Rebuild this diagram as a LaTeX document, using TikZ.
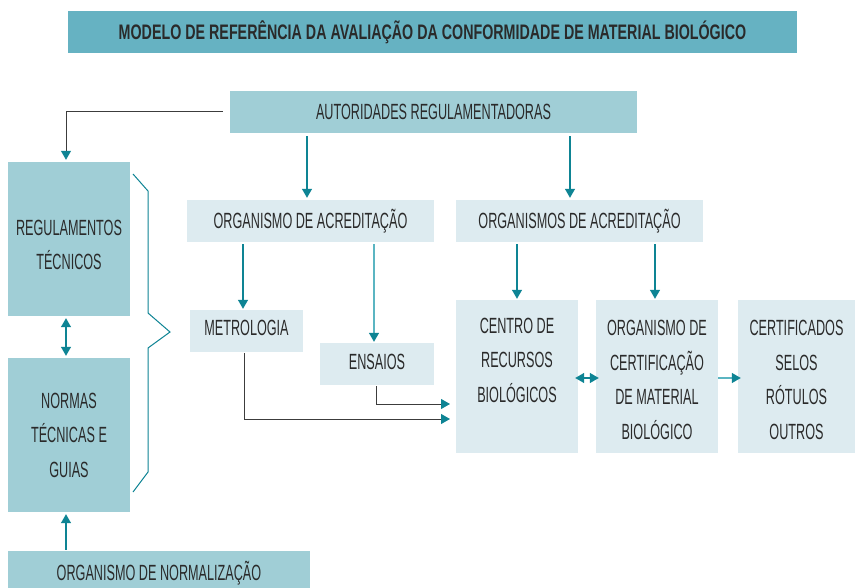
\documentclass[tikz,border=0pt]{standalone}
\usepackage{fontspec}
\setmainfont{Liberation Sans}[FakeStretch=0.575]
\newfontfamily\titlefont{Liberation Sans}[FakeStretch=0.68]
\usetikzlibrary{arrows.meta}
\definecolor{titlecol}{HTML}{66B2C2}
\definecolor{darkbox}{HTML}{A0CED6}
\definecolor{lightbox}{HTML}{DDEBF0}
\definecolor{teal}{HTML}{0E8494}
\definecolor{lteal}{HTML}{5BB5C2}
\definecolor{txt}{HTML}{2A2A2A}
\definecolor{gline}{HTML}{3C3C3C}
\tikzset{
  box/.style={inner sep=0pt, align=center, text=txt, font={\fontsize{22}{34.5}\selectfont}},
  dbox/.style={box, fill=darkbox},
  lbox/.style={box, fill=lightbox},
  tip/.style={-{Triangle[width=10pt,length=9pt,color=teal]}},
  dtip/.style={{Triangle[width=10pt,length=9pt,color=teal]}-{Triangle[width=10pt,length=9pt,color=teal]}},
  tl/.style={draw=teal, line width=1.2pt, tip},
  tll/.style={draw=lteal, line width=1.2pt, tip},
  gl/.style={draw=gline, line width=1pt, tip},
}
\begin{document}
\begin{tikzpicture}[x=1pt,y=-1pt]
\useasboundingbox (0,0) rectangle (855,588);
\clip (0,0) rectangle (855,588);
\fill[white] (0,0) rectangle (855,588);
\node[box, fill=titlecol, minimum width=729pt, minimum height=42pt, font={\titlefont\fontsize{21}{24}\selectfont\bfseries}] (title) at (432.5,32) {MODELO DE REFERÊNCIA DA AVALIAÇÃO DA CONFORMIDADE DE MATERIAL BIOLÓGICO};
\node[dbox, minimum width=407pt, minimum height=42pt] (auto) at (433.5,112) {AUTORIDADES REGULAMENTADORAS};
\node[dbox, minimum width=122pt, minimum height=154pt] (reg) at (69,239) {};
\node[box] (regt) at (69,245) {REGULAMENTOS\\TÉCNICOS};
\node[dbox, minimum width=122pt, minimum height=154pt] (normas) at (69,435) {NORMAS\\TÉCNICAS E\\GUIAS};
\node[dbox, minimum width=302pt, minimum height=44pt] (normaliz) at (159,573) {ORGANISMO DE NORMALIZAÇÃO};
\node[lbox, minimum width=247pt, minimum height=42pt] (orgacred) at (310.5,221) {ORGANISMO DE ACREDITAÇÃO};
\node[lbox, minimum width=247pt, minimum height=42pt] (orgsacred) at (579.5,221) {ORGANISMOS DE ACREDITAÇÃO};
\node[lbox, minimum width=113pt, minimum height=42pt] (metro) at (246.5,331) {};
\node[box] (metrot) at (246.5,327.5) {METROLOGIA};
\node[lbox, minimum width=114pt, minimum height=42pt] (ensaios) at (377,364) {};
\node[box] (ensaiost) at (377,361.5) {ENSAIOS};
\node[lbox, minimum width=122pt, minimum height=153pt] (centro) at (517,376.5) {};
\node[box] (centrot) at (517,360) {CENTRO DE\\RECURSOS\\BIOLÓGICOS};
\node[lbox, minimum width=122pt, minimum height=153pt] (cert) at (657,376.5) {};
\node[box] (certt) at (657,380) {ORGANISMO DE\\CERTIFICAÇÃO\\DE MATERIAL\\BIOLÓGICO};
\node[lbox, minimum width=117pt, minimum height=153pt] (certif) at (796.5,376.5) {};
\node[box] (certift) at (796.5,380) {CERTIFICADOS\\SELOS\\RÓTULOS\\OUTROS};
% connectors
\draw[gl] ([xshift=-7pt]auto.west) -| ([xshift=-3pt,yshift=2pt]reg.north);
\draw[tl] ([xshift=-3.5pt,yshift=-3pt]orgacred.north |- auto.south) -- ([xshift=-3.5pt,yshift=2pt]orgacred.north);
\draw[tl] ([xshift=-9.5pt,yshift=-3pt]orgsacred.north |- auto.south) -- ([xshift=-9.5pt,yshift=2pt]orgsacred.north);
\draw[tl] ([xshift=-3.5pt,yshift=-2pt]orgacred.south -| metro.north) -- ([xshift=-3.5pt,yshift=1pt]metro.north);
\draw[tll] ([xshift=-3pt,yshift=-2pt]orgacred.south -| ensaios.north) -- ([xshift=-3pt,yshift=1pt]ensaios.north);
\draw[tl] ([yshift=-2pt]orgsacred.south -| centro.north) -- ([yshift=1pt]centro.north);
\draw[tl] ([xshift=-2pt,yshift=-2pt]orgsacred.south -| cert.north) -- ([xshift=-2pt,yshift=1pt]cert.north);
\coordinate (m1) at (450,419);
\coordinate (e1) at (450,404);
\draw[gl] ([xshift=-2.5pt,yshift=-1pt]metro.south) |- (m1);
\draw[gl] ([xshift=-1pt,yshift=-1pt]ensaios.south) |- (e1);
\draw[draw=teal, line width=1.2pt, dtip] ([xshift=-3pt,yshift=-1.5pt]centro.east) -- ([xshift=3pt,yshift=-1.5pt]cert.west);
\draw[tll] ([yshift=-1.5pt]cert.east) -- ([xshift=3pt,yshift=-1.5pt]certif.west);
\draw[draw=teal, line width=1.2pt, dtip] ([xshift=-3pt,yshift=-2pt]reg.south) -- ([xshift=-3pt,yshift=2pt]normas.north);
\draw[tl] ([xshift=-3pt,yshift=1pt]normaliz.north -| normas.south) -- ([xshift=-3pt,yshift=-2pt]normas.south);
% brace
\draw[teal, line width=1pt] (133,174) -- (148,191) -- (148,313) -- (170,332) -- (148,348) -- (148,472) -- (133,492);
\end{tikzpicture}
\end{document}
